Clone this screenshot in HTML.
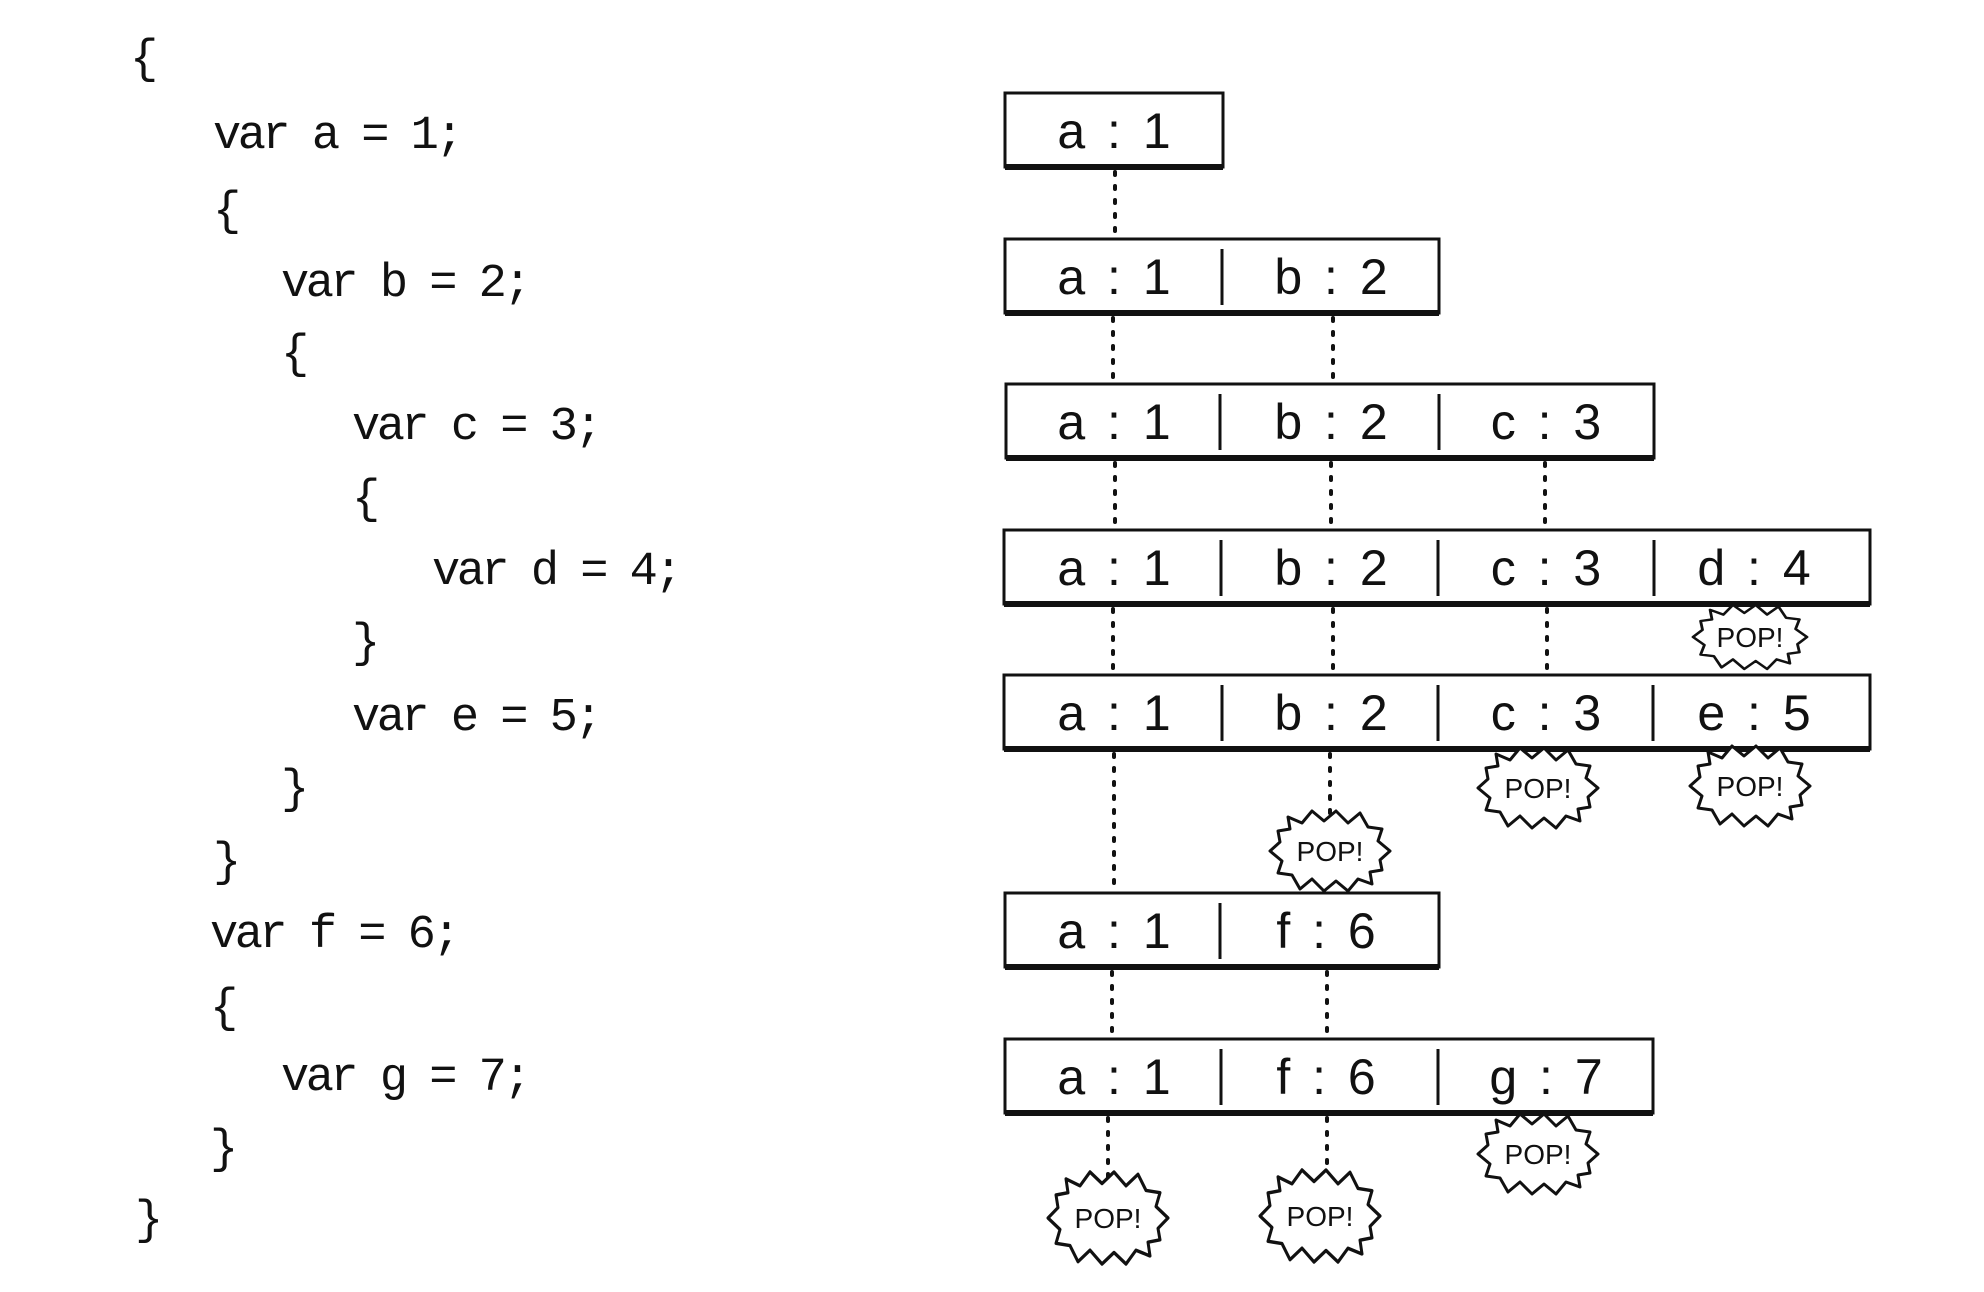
<!DOCTYPE html>
<html><head><meta charset="utf-8"><style>
html,body{margin:0;padding:0;background:#fff;}
svg{display:block;}
.code{font-family:"Liberation Mono",monospace;font-size:47px;fill:#111;letter-spacing:-3.5px;}
.cell{font-family:"Liberation Sans",sans-serif;font-size:50px;fill:#111;text-anchor:middle;word-spacing:8px;}
.pop{font-family:"Liberation Sans",sans-serif;font-size:28px;fill:#111;text-anchor:middle;}
</style></head><body>
<svg width="1984" height="1292" viewBox="0 0 1984 1292" xmlns="http://www.w3.org/2000/svg">
<defs>
<polygon id="burst" points="60,0 50,9 52,19 40,21 42,33 28,28 18,40 6,30 -6,40 -18,28 -30,38 -38,24 -52,22 -48,10 -60,0 -50,-9 -52,-20 -40,-22 -42,-34 -28,-28 -18,-40 -6,-30 6,-40 18,-28 30,-38 38,-24 52,-22 48,-10" fill="#fff" stroke="#111" stroke-width="3" stroke-linejoin="round"/>
</defs>
<g class="code">
<text x="130" y="72">{</text>
<text x="213" y="148">var a = 1;</text>
<text x="213" y="224">{</text>
<text x="281" y="296">var b = 2;</text>
<text x="281" y="367">{</text>
<text x="352" y="439">var c = 3;</text>
<text x="352" y="512">{</text>
<text x="432" y="584">var d = 4;</text>
<text x="352" y="656">}</text>
<text x="352" y="730">var e = 5;</text>
<text x="281" y="802">}</text>
<text x="213" y="875">}</text>
<text x="210" y="947">var f = 6;</text>
<text x="210" y="1021">{</text>
<text x="281" y="1090">var g = 7;</text>
<text x="210" y="1162">}</text>
<text x="135" y="1233">}</text>
</g>
<g stroke="#111" stroke-width="4" stroke-dasharray="3 11" stroke-linecap="round" fill="none">
<line x1="1115" y1="172" x2="1115" y2="234"/>
<line x1="1113" y1="318" x2="1113" y2="379"/>
<line x1="1333" y1="318" x2="1333" y2="379"/>
<line x1="1115" y1="463" x2="1115" y2="525"/>
<line x1="1331" y1="463" x2="1331" y2="525"/>
<line x1="1545" y1="463" x2="1545" y2="525"/>
<line x1="1113" y1="609" x2="1113" y2="670"/>
<line x1="1333" y1="609" x2="1333" y2="670"/>
<line x1="1547" y1="609" x2="1547" y2="670"/>
<line x1="1114" y1="754" x2="1114" y2="888"/>
<line x1="1330" y1="754" x2="1330" y2="815"/>
<line x1="1112" y1="972" x2="1112" y2="1033"/>
<line x1="1327" y1="972" x2="1327" y2="1033"/>
<line x1="1108" y1="1118" x2="1108" y2="1180"/>
<line x1="1327" y1="1118" x2="1327" y2="1180"/>
</g>
<g fill="#fff" stroke="#111" stroke-width="3">
<rect x="1005" y="93" width="218" height="74"/>
<rect x="1005" y="239" width="434" height="74"/>
<rect x="1006" y="384" width="648" height="74"/>
<rect x="1004" y="530" width="866" height="74"/>
<rect x="1004" y="675" width="866" height="74"/>
<rect x="1005" y="893" width="434" height="74"/>
<rect x="1005" y="1039" width="648" height="74"/>
</g>
<g stroke="#111" stroke-width="6">
<line x1="1005" y1="167" x2="1223" y2="167"/>
<line x1="1005" y1="313" x2="1439" y2="313"/>
<line x1="1006" y1="458" x2="1654" y2="458"/>
<line x1="1004" y1="604" x2="1870" y2="604"/>
<line x1="1004" y1="749" x2="1870" y2="749"/>
<line x1="1005" y1="967" x2="1439" y2="967"/>
<line x1="1005" y1="1113" x2="1653" y2="1113"/>
</g>
<g stroke="#111" stroke-width="3">
<line x1="1222" y1="249" x2="1222" y2="305"/>
<line x1="1220" y1="394" x2="1220" y2="450"/><line x1="1439" y1="394" x2="1439" y2="450"/>
<line x1="1221" y1="540" x2="1221" y2="596"/><line x1="1438" y1="540" x2="1438" y2="596"/><line x1="1654" y1="540" x2="1654" y2="596"/>
<line x1="1222" y1="685" x2="1222" y2="741"/><line x1="1438" y1="685" x2="1438" y2="741"/><line x1="1653" y1="685" x2="1653" y2="741"/>
<line x1="1220" y1="903" x2="1220" y2="959"/>
<line x1="1221" y1="1049" x2="1221" y2="1105"/><line x1="1438" y1="1049" x2="1438" y2="1105"/>
</g>
<g class="cell">
<text x="1114" y="148">a : 1</text>
<text x="1114" y="294">a : 1</text><text x="1331" y="294">b : 2</text>
<text x="1114" y="439">a : 1</text><text x="1331" y="439">b : 2</text><text x="1546" y="439">c : 3</text>
<text x="1114" y="585">a : 1</text><text x="1331" y="585">b : 2</text><text x="1546" y="585">c : 3</text><text x="1754" y="585">d : 4</text>
<text x="1114" y="730">a : 1</text><text x="1331" y="730">b : 2</text><text x="1546" y="730">c : 3</text><text x="1754" y="730">e : 5</text>
<text x="1114" y="948">a : 1</text><text x="1326" y="948">f : 6</text>
<text x="1114" y="1094">a : 1</text><text x="1326" y="1094">f : 6</text><text x="1546" y="1094">g : 7</text>
</g>
<use href="#burst" transform="translate(1750,637) scale(0.95,0.8)"/>
<use href="#burst" transform="translate(1538,788)"/>
<use href="#burst" transform="translate(1750,786)"/>
<use href="#burst" transform="translate(1330,851)"/>
<use href="#burst" transform="translate(1538,1154)"/>
<use href="#burst" transform="translate(1108,1218) scale(1,1.15)"/>
<use href="#burst" transform="translate(1320,1216) scale(1,1.15)"/>
<g class="pop">
<text x="1750" y="647">POP!</text>
<text x="1538" y="798">POP!</text>
<text x="1750" y="796">POP!</text>
<text x="1330" y="861">POP!</text>
<text x="1538" y="1164">POP!</text>
<text x="1108" y="1228">POP!</text>
<text x="1320" y="1226">POP!</text>
</g>
</svg>
</body></html>
